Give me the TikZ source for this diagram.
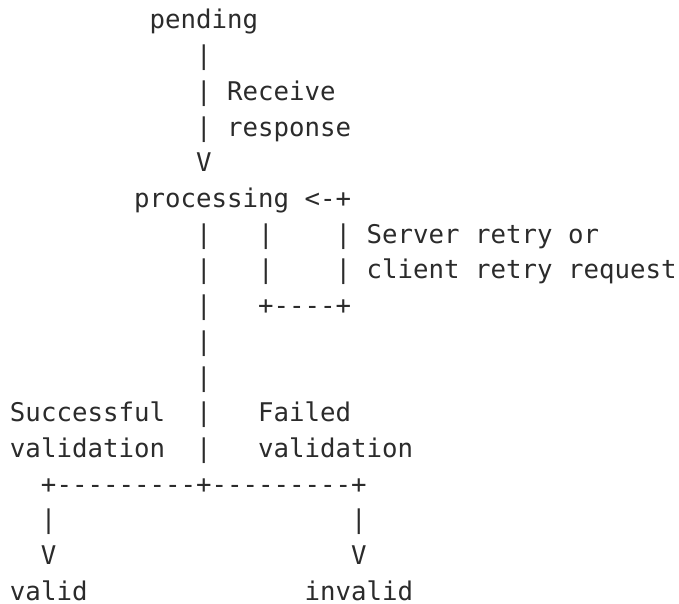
\documentclass[tikz,border=0pt]{standalone}
\usepackage{fontspec}
\setmonofont{DejaVu Sans Mono}
\definecolor{ink}{HTML}{2B2B2B}
\tikzset{
  ascii/.style={anchor=base west,inner sep=0pt,outer sep=0pt,text=ink,
    font=\ttfamily\fontsize{25.75pt}{35.7pt}\selectfont}
}
\begin{document}
\begin{tikzpicture}[x=15.5pt,y=-35.7pt]
        \useasboundingbox (-0.645,-0.812) rectangle (43.16,16.08);
        %% pending state
        \node[ascii] (pending) at (9,0) {pending};
        \node[ascii] (pbarA) at (12,1) {|};
        \node[ascii] (pbarB) at (12,2) {|};
        \node[ascii] (recv) at (14,2) {Receive};
        \node[ascii] (pbarC) at (12,3) {|};
        \node[ascii] (resp) at (14,3) {response};
        \node[ascii] (parr) at (12,4) {V};
        %% processing state and retry loop
        \node[ascii] (proc) at (8,5) {processing};
        \node[ascii] (loopin) at (19,5) {<-+};
        \node[ascii] (mbarA) at (12,6) {|};
        \node[ascii] (lbarA) at (16,6) {|};
        \node[ascii] (rbarA) at (21,6) {|};
        \node[ascii] (srvretry) at (23,6) {Server retry or};
        \node[ascii] (mbarB) at (12,7) {|};
        \node[ascii] (lbarB) at (16,7) {|};
        \node[ascii] (rbarB) at (21,7) {|};
        \node[ascii] (cliretry) at (23,7) {client retry request};
        \node[ascii] (mbarC) at (12,8) {|};
        \node[ascii] (loopout) at (16,8) {+----+};
        \node[ascii] (mbarD) at (12,9) {|};
        \node[ascii] (mbarE) at (12,10) {|};
        %% validation branches
        \node[ascii] (succA) at (0,11) {Successful};
        \node[ascii] (mbarF) at (12,11) {|};
        \node[ascii] (failA) at (16,11) {Failed};
        \node[ascii] (succB) at (0,12) {validation};
        \node[ascii] (mbarG) at (12,12) {|};
        \node[ascii] (failB) at (16,12) {validation};
        \node[ascii] (split) at (2,13) {+---------+---------+};
        \node[ascii] (vbar) at (2,14) {|};
        \node[ascii] (ibar) at (22,14) {|};
        \node[ascii] (varr) at (2,15) {V};
        \node[ascii] (iarr) at (22,15) {V};
        %% end states
        \node[ascii] (valid) at (0,16) {valid};
        \node[ascii] (invalid) at (19,16) {invalid};
    \end{tikzpicture}
\end{document}
